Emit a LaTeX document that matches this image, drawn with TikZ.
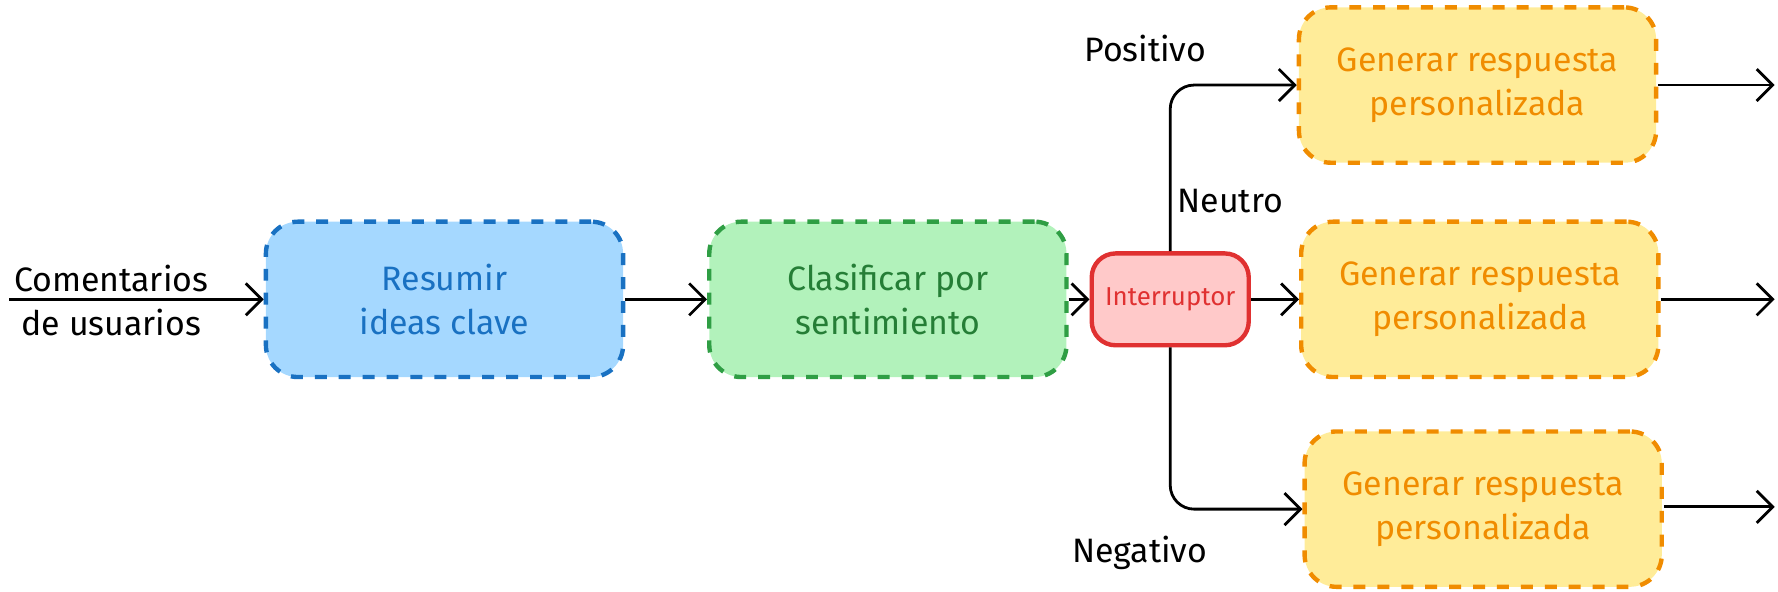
\documentclass[tikz,border=0pt]{standalone}
\usepackage{fontspec}
\setmainfont{Fira Sans}
\usetikzlibrary{arrows.meta}
\definecolor{bluefill}{HTML}{A5D8FF}
\definecolor{blueline}{HTML}{1971C2}
\definecolor{greenfill}{HTML}{B2F2BB}
\definecolor{greenline}{HTML}{2F9E44}
\definecolor{redfill}{HTML}{FFC9C9}
\definecolor{redline}{HTML}{E03131}
\definecolor{yellowfill}{HTML}{FFEC99}
\definecolor{yellowline}{HTML}{F08C00}
\tikzset{
    box/.style={rounded corners=8pt, dashed, line width=1.1pt, align=center,
        minimum width=3.15cm, minimum height=1.37cm, font=\fontsize{8.5}{11}\selectfont},
    flow/.style={-{Straight Barb[length=4pt]}, line width=0.7pt},
    lbl/.style={font=\fontsize{8.5}{11}\selectfont, align=center}
}
\begin{document}
\begin{tikzpicture}
            \useasboundingbox (0, 0) rectangle (15.68, 5.22);

            \node[lbl] (input) at (0.98, 2.57) {Comentarios\\de usuarios};
            \coordinate (start) at (0.08, 2.57);

            \node[box, draw=blueline, fill=bluefill, text=blueline] (resumir) at (3.92, 2.58) {Resumir\\ideas clave};
            \node[box, draw=greenline, fill=greenfill, text=greenline!80!black] (clasificar) at (7.83, 2.58) {Clasificar por\\sentimiento};
            \node[rounded corners=6pt, draw=redline, fill=redfill, text=redline, line width=1.1pt,
                minimum width=1.15cm, minimum height=0.81cm, font=\fontsize{6.5}{7}\selectfont] (switch) at (10.32, 2.58) {Interruptor};

            \node[box, draw=yellowline, fill=yellowfill, text=yellowline] (pos) at (13.03, 4.47) {Generar respuesta\\personalizada};
            \node[box, draw=yellowline, fill=yellowfill, text=yellowline] (neu) at (13.05, 2.58) {Generar respuesta\\personalizada};
            \node[box, draw=yellowline, fill=yellowfill, text=yellowline] (neg) at (13.08, 0.73) {Generar respuesta\\personalizada};

            \node[lbl] (lpos) at (10.1, 4.79) {Positivo};
            \node[lbl] (lneu) at (10.85, 3.45) {Neutro};
            \node[lbl] (lneg) at (10.05, 0.34) {Negativo};

            \coordinate (outpos) at (15.65, 4.47);
            \coordinate (outneu) at (15.65, 2.58);
            \coordinate (outneg) at (15.65, 0.75);

            \draw[flow] (start -| input.south west) ++(-0.9,-0.02) coordinate (s0);
            \draw[flow] (0.08, 2.58) coordinate (s1) -- (resumir);
            \draw[flow] (resumir) -- (clasificar);
            \draw[flow] (clasificar) -- (switch);
            \draw[flow] (switch) -- (neu);
            \draw[flow, rounded corners=6pt] (switch.north) |- (pos.west);
            \draw[flow, rounded corners=6pt] (switch.south) |- (neg.west);
            \draw[flow] (pos) -- (outpos);
            \draw[flow] (neu) -- (outneu);
            \draw[flow] (neg.east |- outneg) -- (outneg);
        \end{tikzpicture}
\end{document}
